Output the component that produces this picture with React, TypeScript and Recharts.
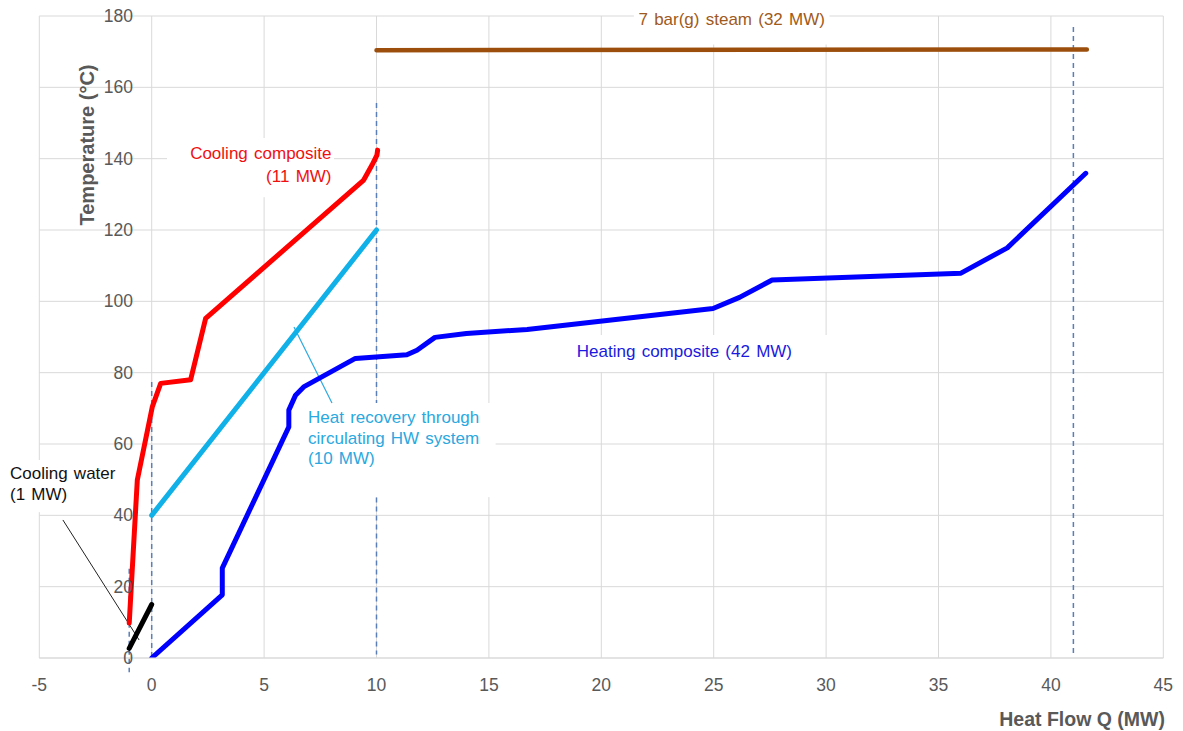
import React from 'react';
import {
  ComposedChart,
  Line,
  XAxis,
  YAxis,
  CartesianGrid,
  ReferenceLine,
  ReferenceArea,
} from 'recharts';

const W = 1183;
const H = 731;
const FONT = '"Liberation Sans", Arial, Helvetica, sans-serif';
const AXIS_GREY = '#595959';
const GRID = '#d9d9d9';

// ---- Stream data: heat flow Q (MW) against temperature (°C) ----
const steamQ = [10, 41.6];
const steamT = [170.4, 170.6];

const coolingQ = [-1.0, -0.64, 0.03, 0.4, 1.73, 2.4, 9.43, 9.8, 10.02, 10.05];
const coolingT = [9.8, 49.9, 70.5, 77, 78, 95.2, 134, 138.2, 141, 142.4];

const hwQ = [0, 10];
const hwT = [40, 120];

const cwQ = [-1, 0];
const cwT = [2.7, 15];

const heatingQ = [0, 3.14, 3.14, 6.1, 6.1, 6.4, 6.76, 9.06, 11.35, 11.8, 12.6, 14.0, 16.7, 24.97, 26.15, 27.6, 36.0, 38.06, 41.55];
const heatingT = [0, 17.7, 25.2, 64.8, 69.5, 73.7, 76, 84, 85, 86.3, 89.9, 91, 92.1, 98, 101.1, 106, 107.9, 115, 135.9];

// ---- Axis ticks ----
const qTicks = [-5, 0, 5, 10, 15, 20, 25, 30, 35, 40, 45];
const tTicks = [0, 20, 40, 60, 80, 100, 120, 140, 160, 180];

// ---- Dashed duty boundaries: Q position, upper and lower temperature ----
const boundaryQ = [-1, 0, 10, 10, 41];
const boundaryTop = [25, 77.4, 155.6, 45, 176.9];
const boundaryBottom = [-4, 0, 71.5, 1, 1];

// ---- Leader lines from labels to their streams ----
const cwLeaderQ = [-3.95, -0.56];
const cwLeaderT = [38.7, 5.05];
const hwLeaderQ = [6.33, 8.02];
const hwLeaderT = [92.8, 71.5];

const toRows = (q: number[], t: number[]) => q.map((v, i) => ({ q: v, t: t[i] }));

type Note = {
  q1: number;
  q2: number;
  t1: number;
  t2: number;
  lines: string[];
  color: string;
  anchor: 'start' | 'middle' | 'end';
  pad: number;
  first: number;
  lh: number;
};

// Text boxes (white fill, as in a spreadsheet text box)
const notes: Note[] = [
  { q1: 21.45, q2: 30.15, t1: 172, t2: 183, lines: ['7 bar(g) steam (32 MW)'], color: '#a05a20', anchor: 'middle', pad: 0, first: 19.8, lh: 0 },
  { q1: 0.68, q2: 8.11, t1: 129.2, t2: 145.8, lines: ['Cooling composite', '(11 MW)'], color: '#f01010', anchor: 'end', pad: 2.5, first: 21, lh: 23 },
  { q1: 6.6, q2: 15.3, t1: 45.1, t2: 71.5, lines: ['Heat recovery through', 'circulating HW system', '(10 MW)'], color: '#2aa8e0', anchor: 'start', pad: 8, first: 20, lh: 20.7 },
  { q1: 18.6, q2: 30.62, t1: 80.2, t2: 90.55, lines: ['Heating composite (42 MW)'], color: '#1a1ae0', anchor: 'start', pad: 7, first: 22, lh: 0 },
  { q1: -6.57, q2: -1.6, t1: 40.9, t2: 55.5, lines: ['Cooling water', '(1 MW)'], color: '#111111', anchor: 'start', pad: 6, first: 19, lh: 21 },
];

const noteShape = (n: Note) => (p: any) => {
  const { x, y, width, height } = p;
  const tx = n.anchor === 'start' ? x + n.pad : n.anchor === 'end' ? x + width - n.pad : x + width / 2;
  return (
    <g>
      <rect x={x} y={y} width={width} height={height} fill="#ffffff" />
      {n.lines.map((s, i) => (
        <text
          key={i}
          x={tx}
          y={y + n.first + i * n.lh}
          textAnchor={n.anchor}
          fontSize={17}
          fontFamily={FONT}
          fill={n.color}
          style={{ wordSpacing: '1.5px' }}
        >
          {s}
        </text>
      ))}
    </g>
  );
};

const YTick = (p: any) => (
  <text x={133} y={p.y} textAnchor="end" dominantBaseline="central" fontSize={17.5} fontFamily={FONT} fill={AXIS_GREY}>
    {p.payload.value}
  </text>
);

const XTick = (p: any) => (
  <text x={p.x} y={685} textAnchor="middle" dominantBaseline="central" fontSize={17.5} fontFamily={FONT} fill={AXIS_GREY}>
    {p.payload.value}
  </text>
);

const XTitle = () => (
  <text x={1165} y={719} textAnchor="end" dominantBaseline="central" fontSize={19.5} fontWeight="bold" fontFamily={FONT} fill={AXIS_GREY}>
    Heat Flow Q (MW)
  </text>
);

const YTitle = () => (
  <text
    x={87}
    y={145}
    transform="rotate(-90 87 145)"
    textAnchor="middle"
    dominantBaseline="central"
    fontSize={20}
    fontWeight="bold"
    fontFamily={FONT}
    fill={AXIS_GREY}
  >
    Temperature (°C)
  </text>
);

const lineProps = {
  dataKey: 't',
  type: 'linear' as const,
  dot: false,
  activeDot: false,
  isAnimationActive: false,
  strokeLinecap: 'round' as const,
  strokeLinejoin: 'round' as const,
};

export default function App() {
  return (
    <div style={{ position: 'absolute', left: 0, top: 0, width: W, height: H, background: '#ffffff' }}>
      <ComposedChart width={W} height={H} margin={{ top: 16, right: 19.7, bottom: 0, left: 29.3 }}>
        <CartesianGrid stroke={GRID} strokeWidth={1} />
        <XAxis
          type="number"
          dataKey="q"
          domain={[-5, 45]}
          ticks={qTicks}
          allowDataOverflow
          height={73}
          axisLine={{ stroke: GRID, strokeWidth: 1.2 }}
          tickLine={false}
          tick={<XTick />}
          label={{ content: () => <XTitle /> }}
        />
        <YAxis
          type="number"
          dataKey="t"
          domain={[0, 180]}
          ticks={tTicks}
          allowDataOverflow
          width={10}
          axisLine={false}
          tickLine={false}
          tick={<YTick />}
          label={{ content: () => <YTitle /> }}
        />

        {boundaryQ.map((q, i) => (
          <ReferenceLine
            key={`b${i}`}
            segment={[
              { x: q, y: boundaryTop[i] },
              { x: q, y: boundaryBottom[i] },
            ]}
            ifOverflow="visible"
            stroke="#5a7fb8"
            strokeWidth={1.5}
            strokeDasharray="5 4"
          />
        ))}

        {notes.map((n, i) => (
          <ReferenceArea
            key={`n${i}`}
            x1={n.q1}
            x2={n.q2}
            y1={n.t1}
            y2={n.t2}
            ifOverflow="visible"
            fill="#ffffff"
            fillOpacity={1}
            stroke="none"
            shape={noteShape(n)}
          />
        ))}

        <ReferenceLine
          segment={[
            { x: cwLeaderQ[0], y: cwLeaderT[0] },
            { x: cwLeaderQ[1], y: cwLeaderT[1] },
          ]}
          ifOverflow="visible"
          stroke="#222222"
          strokeWidth={1}
        />
        <ReferenceLine
          segment={[
            { x: hwLeaderQ[0], y: hwLeaderT[0] },
            { x: hwLeaderQ[1], y: hwLeaderT[1] },
          ]}
          ifOverflow="visible"
          stroke="#2aa8e0"
          strokeWidth={1.2}
        />

        <Line {...lineProps} data={toRows(steamQ, steamT)} stroke="#9c4f0c" strokeWidth={4.5} />
        <Line {...lineProps} data={toRows(coolingQ, coolingT)} stroke="#ff0000" strokeWidth={5} />
        <Line {...lineProps} data={toRows(hwQ, hwT)} stroke="#10b0e8" strokeWidth={5} />
        <Line {...lineProps} data={toRows(heatingQ, heatingT)} stroke="#0000ff" strokeWidth={5} />
        <Line {...lineProps} data={toRows(cwQ, cwT)} stroke="#000000" strokeWidth={5} />
      </ComposedChart>
    </div>
  );
}
